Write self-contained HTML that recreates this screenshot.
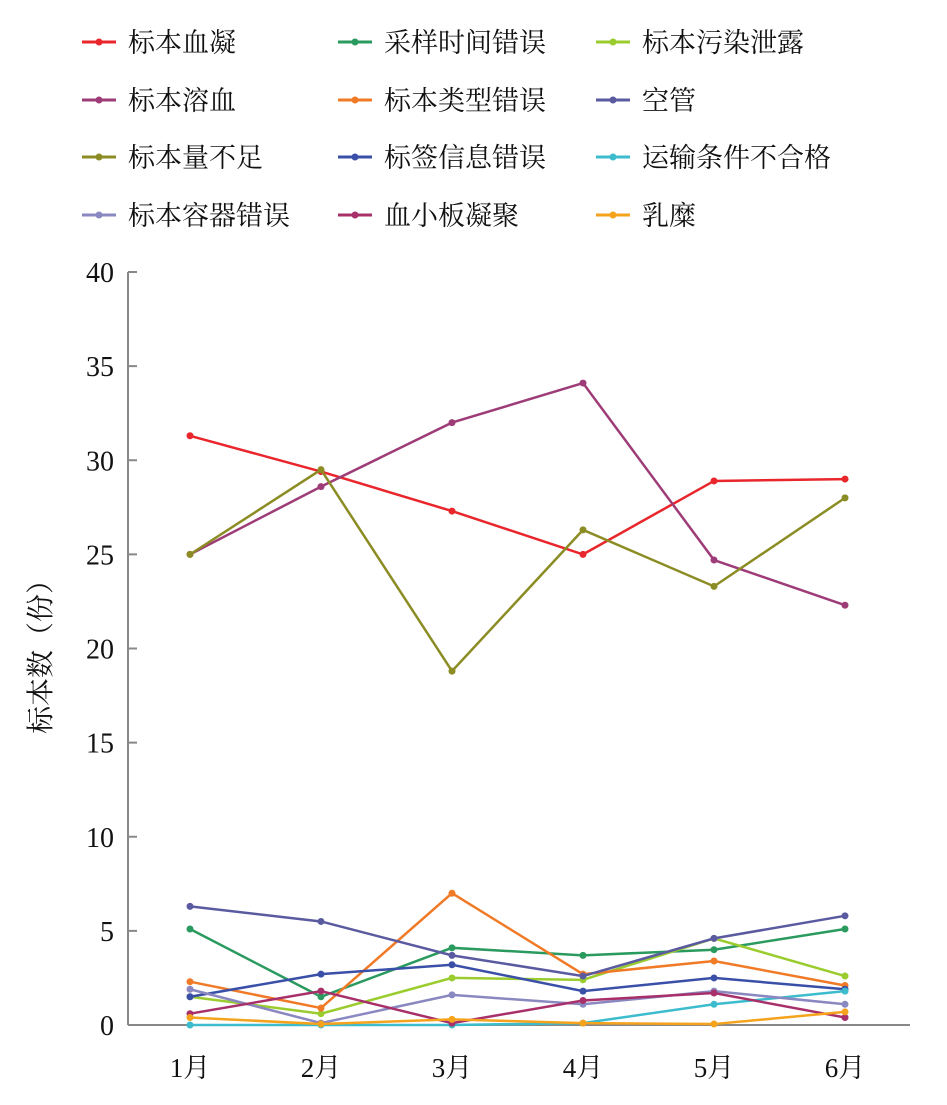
<!DOCTYPE html>
<html><head><meta charset="utf-8">
<style>
body{margin:0;background:#fff;}
svg text{font-family:"Liberation Serif","Noto Serif CJK SC",serif;fill:#111;}
.lg{font-family:"Liberation Serif","Noto Serif CJK SC",serif;font-size:27px;}
</style></head>
<body>
<svg id="chart" width="947" height="1100" viewBox="0 0 947 1100" xmlns="http://www.w3.org/2000/svg">
<g id="axes"></g><g id="series"></g><g id="legend"></g>
</svg>
<script>
const categories=["1月","2月","3月","4月","5月","6月"];
const yTicks=[0,5,10,15,20,25,30,35,40];
const seriesNames=["标本血凝","采样时间错误","标本污染泄露","标本溶血","标本类型错误","空管","标本量不足","标签信息错误","运输条件不合格","标本容器错误","血小板凝聚","乳糜"];
const seriesColors=["#e8262b","#2a9a5e","#9acc2e","#9e3c78","#f07a26","#5a5aa0","#8c8c24","#3a4fa8","#3cbccc","#8a88c0","#a8306a","#f5a21c"];
const sXueNing=[31.3,29.4,27.3,25.0,28.9,29.0];
const sCaiYang=[5.1,1.5,4.1,3.7,4.0,5.1];
const sWuRan=[1.5,0.6,2.5,2.4,4.6,2.6];
const sRongXue=[25.0,28.6,32.0,34.1,24.7,22.3];
const sLeiXing=[2.3,0.9,7.0,2.7,3.4,2.1];
const sKongGuan=[6.3,5.5,3.7,2.6,4.6,5.8];
const sLiangBuZu=[25.0,29.5,18.8,26.3,23.3,28.0];
const sBiaoQian=[1.5,2.7,3.2,1.8,2.5,1.9];
const sYunShu=[0,0,0,0.1,1.1,1.8];
const sRongQi=[1.9,0.1,1.6,1.1,1.8,1.1];
const sXueXiaoBan=[0.6,1.8,0.1,1.3,1.7,0.4];
const sRuMi=[0.4,0.05,0.3,0.1,0.05,0.7];
const allSeries=[sXueNing,sCaiYang,sWuRan,sRongXue,sLeiXing,sKongGuan,sLiangBuZu,sBiaoQian,sYunShu,sRongQi,sXueXiaoBan,sRuMi];

const NS="http://www.w3.org/2000/svg";
const x0=128,xEnd=910,y0=1025,yTop=272,yMax=40;
const xFirst=190,xStep=131;
const xScale=i=>xFirst+i*xStep;
const yScale=v=>y0-(v/yMax)*(y0-yTop);
function mk(tag,attrs,parent){const e=document.createElementNS(NS,tag);for(const k in attrs)e.setAttribute(k,attrs[k]);parent.appendChild(e);return e;}
const axes=document.getElementById('axes');
let yl=mk('line',{x1:x0,y1:yTop,x2:x0,y2:y0,stroke:'#888','stroke-width':2},axes);


let xl=mk('line',{x1:x0,y1:y0,x2:xEnd,y2:y0,stroke:'#888','stroke-width':2},axes);


yTicks.forEach(t=>{
  const y=yScale(t);
  mk('line',{x1:x0,y1:y,x2:x0+9,y2:y,stroke:'#888','stroke-width':2},axes);
  const tx=mk('text',{x:x0-14,y:y+10,'text-anchor':'end','font-size':28},axes);
  tx.textContent=t;
  
  
});
categories.forEach((c,i)=>{
  const x=xScale(i);
  const tx=mk('text',{x:x,y:1077,'text-anchor':'middle','font-size':27},axes);
  tx.textContent=c;
  
  
});
const yt=mk('text',{x:0,y:0,'text-anchor':'middle','font-size':28,transform:'translate(50,650) rotate(-90)'},axes);
yt.textContent='标本数（份）';



const sg=document.getElementById('series');
allSeries.forEach((s,k)=>{
  const g=mk('g',{},sg);
  
  
  const pts=s.map((v,i)=>xScale(i)+','+yScale(v)).join(' ');
  mk('polyline',{points:pts,fill:'none',stroke:seriesColors[k],'stroke-width':2.5},g);
  s.forEach((v,i)=>{
    const c=mk('circle',{cx:xScale(i),cy:yScale(v),r:3.5,fill:seriesColors[k]},g);
    
    
  });
});

const lg=document.getElementById('legend');
const colX=[82,338,596],rowY=[42,100,157,215];
seriesNames.forEach((n,k)=>{
  const cx=colX[k%3],cy=rowY[Math.floor(k/3)];
  const g=mk('g',{},lg);
  
  
  mk('line',{x1:cx,y1:cy,x2:cx+34,y2:cy,stroke:seriesColors[k],'stroke-width':3},g);
  mk('circle',{cx:cx+17,cy:cy,r:3.5,fill:seriesColors[k]},g);
  const t=mk('text',{x:cx+46,y:cy+10,class:'lg'},g);
  t.textContent=n;
});
</script>
</body></html>
